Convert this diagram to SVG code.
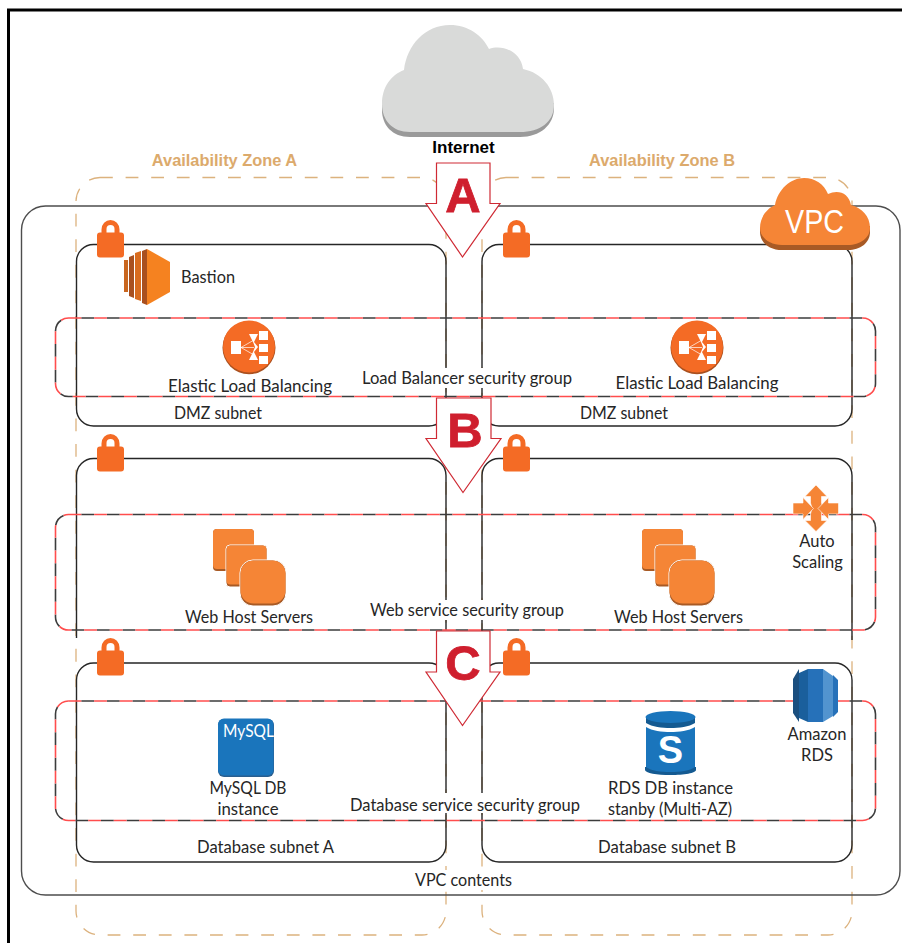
<svg xmlns="http://www.w3.org/2000/svg" width="902" height="943" viewBox="0 0 902 943">
<style>
text{font-family:Lato,"Liberation Sans",Arial,sans-serif;font-size:16.5px;fill:#262626}
.c{text-anchor:middle}
.az{font-family:"Liberation Sans",Arial,sans-serif;font-weight:700;font-size:16.4px;fill:#dcaa6c;text-anchor:middle}
.letter{font-family:"Liberation Sans",Arial,sans-serif;font-weight:700;font-size:49px;fill:#cf1f2e;stroke:#cf1f2e;stroke-width:.8;text-anchor:middle}
.azb{fill:none;stroke:#dcb27e;stroke-width:1.3;stroke-dasharray:12.8 12.8}
.vpc{fill:none;stroke:#4d4d4d;stroke-width:1.4}
.sub{fill:none;stroke:#262626;stroke-width:1.4}
.sgb{fill:none;stroke:#3c3c3c;stroke-width:1.6;stroke-dasharray:12.8 12.8;stroke-dashoffset:12.8}
.sgr{fill:none;stroke:#ff4d4d;stroke-width:1.6;stroke-dasharray:12.8 12.8}
.arrow{fill:#fff;stroke:#cf2a34;stroke-width:1.2}
.lock{fill:#f46b25}
.org{fill:#f58536}
.orgd{fill:#a85a25}
.w{fill:#fff}
</style>
<defs>
<g id="lockI">
<path class="lock" d="M0 15.5a3 3 0 0 1 3-3h1.5v-3a9 9.5 0 0 1 18 0v3h1.500a3 3 0 0 1 3 3v19a3 3 0 0 1-3 3h-21a3 3 0 0 1-3-3z"/>
<path class="w" d="M9.500 12.500v-3.500a4 4 0 0 1 8 0v3.500z"/>
</g>
<g id="elbI">
<circle r="26.500" cy="0.700" fill="#a9501f"/>
<circle r="26" cy="-0.500" fill="#f46b25"/>
<rect class="w" x="-18" y="-6" width="10" height="13"/>
<rect class="w" x="10" y="-16" width="9" height="9"/>
<rect class="w" x="10" y="-3" width="9" height="8"/>
<rect class="w" x="10" y="9" width="9" height="8"/>
<path class="w" d="M0-13H9L5-5 9 0 5 5 9 13H0L4 5 6 0 4-5z"/>
<path fill="none" stroke="#fff" stroke-width=".7" d="M-8 .500 5-7M-8 .500H5M-8 .500 5 8"/>
</g>
<g id="webI">
<rect class="orgd" x="0" y="0" width="41" height="42" rx="4"/>
<rect class="org" x="0" y="0" width="41" height="40" rx="4"/>
<rect class="orgd" x="13" y="16" width="41" height="42" rx="4" stroke="#fff" stroke-width="1"/>
<rect class="org" x="13.500" y="16.500" width="40" height="39" rx="4"/>
<rect class="orgd" x="27" y="31" width="46" height="46" rx="13" stroke="#fff" stroke-width="1"/>
<rect class="org" x="27.500" y="31.500" width="45" height="43" rx="13"/>
</g>
</defs>

<g id="frame"><path fill="none" stroke="#000" stroke-width="3" d="M8.500 943V10H902"/></g>

<g id="zone-a"><rect class="azb" x="76" y="177.500" width="370" height="757.500" rx="24"/></g>
<g id="zone-b"><rect class="azb" x="482" y="177.500" width="370" height="757.500" rx="24"/></g>
<g id="vpc-contents"><rect class="vpc" x="21.500" y="206" width="878.500" height="689" rx="24"/></g>

<g id="subnets">
<rect class="sub" x="76.500" y="244.500" width="369.500" height="181.500" rx="17"/>
<rect class="sub" x="482" y="244.500" width="370" height="181.500" rx="17"/>
<path class="sub" d="M76.500 638V475.500a17 17 0 0 1 17-17H429a17 17 0 0 1 17 17V630"/>
<path class="sub" d="M482 632V475.500a17 17 0 0 1 17-17H835a17 17 0 0 1 17 17V640"/>
<rect class="sub" x="76.500" y="663" width="369.500" height="199" rx="17"/>
<rect class="sub" x="482" y="663" width="370" height="199" rx="17"/>
</g>

<g id="security-groups">
<rect class="sgb" x="55.500" y="318" width="820" height="78.500" rx="13"/>
<rect class="sgr" x="55.500" y="318" width="820" height="78.500" rx="13"/>
<rect class="sgb" x="55.500" y="514.500" width="820" height="115.500" rx="13"/>
<rect class="sgr" x="55.500" y="514.500" width="820" height="115.500" rx="13"/>
<rect class="sgb" x="55.500" y="701" width="820" height="119.500" rx="13"/>
<rect class="sgr" x="55.500" y="701" width="820" height="119.500" rx="13"/>
</g>

<g id="connectors">
<path class="arrow" d="M436.500 163H490V203.500H500L462.500 257 426 203.500H436.500Z"/>
<text class="letter" x="463" y="212">A</text>
<path class="arrow" d="M436.500 398H491V438.500H501L463 492.500 426 438.500H436.500Z"/>
<text class="letter" x="465" y="447">B</text>
<path class="arrow" d="M436.500 631H490V672H500L462.500 725.500 426 672H436.500Z"/>
<text class="letter" x="463" y="680">C</text>
</g>

<g id="internet">
<path fill="#9a9a9a" d="M382 105V110C382 125 392 137 410 137H520C540 137 554 125 554 108V103Z"/>
<path fill="#d9dad9" d="M382 104C382 87 391 75 404 70C407 45 425 25 450 25C468 25 482 35 489 49C503 44 521 52 523 69C542 73 554 88 554 105C554 122 540 132 520 132H410C392 132 382 120 382 104Z"/>
<text x="463.500" y="152.500" class="c" style="font-family:'Liberation Sans',Arial,sans-serif;font-weight:700;font-size:17px;fill:#000">Internet</text>
</g>
<g id="label-az-a"><text class="az" x="224.500" y="165.500">Availability Zone A</text></g>
<g id="label-az-b"><text class="az" x="662" y="165.500">Availability Zone B</text></g>

<g id="vpc-badge">
<path class="orgd" d="M760 228V232C760 243 770 250 782 250H848C860 250 870 243 870 232V226Z"/>
<path class="org" d="M760 228C760 216 768 208 775 205C778 189 791 178 804 178C815 178 824 184 828 194C838 189 849 193 851 205C862 208 870 216 870 228C870 238 860 245 848 245H782C770 245 760 238 760 228Z"/>
<text x="814.500" y="233" class="c" textLength="59" lengthAdjust="spacingAndGlyphs" style="font-family:'Liberation Sans',Arial,sans-serif;font-size:34px;fill:#fff">VPC</text>
</g>

<g id="lock-1"><use href="#lockI" x="97" y="220"/></g>
<g id="lock-2"><use href="#lockI" x="503" y="220"/></g>
<g id="lock-3"><use href="#lockI" x="97" y="434"/></g>
<g id="lock-4"><use href="#lockI" x="503" y="434"/></g>
<g id="lock-5"><use href="#lockI" x="97" y="638"/></g>
<g id="lock-6"><use href="#lockI" x="503" y="638"/></g>

<g id="bastion">
<path fill="#c9661f" d="M124 260H128V292H124z"/>
<path fill="#a9501f" d="M129 257L134 255V298L129 296z"/>
<path fill="#d96c1f" d="M135 253L141 251V301L135 299z"/>
<path fill="#a9501f" d="M142 251L147 249V305L142 303z"/>
<path fill="#f58220" d="M147 249L170 262V292L147 305z"/>
<text x="181" y="283" textLength="54" lengthAdjust="spacingAndGlyphs">Bastion</text>
</g>

<g id="elb-a">
<use href="#elbI" x="249" y="347"/>
<text class="c" x="250" y="392" textLength="164" lengthAdjust="spacingAndGlyphs">Elastic Load Balancing</text>
</g>
<g id="elb-b">
<use href="#elbI" x="697" y="347"/>
<text class="c" x="697" y="389" textLength="163" lengthAdjust="spacingAndGlyphs">Elastic Load Balancing</text>
</g>
<g id="label-lb-sg">
<rect class="w" x="362" y="368" width="210" height="20"/>
<text class="c" x="467" y="384" textLength="210" lengthAdjust="spacingAndGlyphs">Load Balancer security group</text>
</g>
<g id="label-dmz-a"><text class="c" x="218" y="419" textLength="88" lengthAdjust="spacingAndGlyphs">DMZ subnet</text></g>
<g id="label-dmz-b"><text class="c" x="624" y="419" textLength="88" lengthAdjust="spacingAndGlyphs">DMZ subnet</text></g>

<g id="web-a">
<use href="#webI" x="213" y="529"/>
<text class="c" x="249" y="623" textLength="128" lengthAdjust="spacingAndGlyphs">Web Host Servers</text>
</g>
<g id="web-b">
<use href="#webI" x="642" y="529"/>
<text class="c" x="678.500" y="623" textLength="129" lengthAdjust="spacingAndGlyphs">Web Host Servers</text>
</g>
<g id="label-web-sg">
<rect class="w" x="370" y="600" width="194" height="20"/>
<text class="c" x="467" y="616" textLength="194" lengthAdjust="spacingAndGlyphs">Web service security group</text>
</g>

<g id="auto-scaling">
<path class="org" stroke="#fff" stroke-width=".6" d="M816 485L827 496.500H821.500V503L823 508 821.500 514V520.500H827L816 531.500 805 520.500H810.500V514L812 508 810.500 503V496.500H805Z"/>
<path class="org" stroke="#fff" stroke-width=".6" d="M793 503H803V497.500L813.500 508.500 803 519.500V514H793Z"/>
<path class="org" stroke="#fff" stroke-width=".6" d="M838.500 503H828.500V497.500L818 508.500 828.500 519.500V514H838.500Z"/>
<text class="c" x="817" y="546.500">Auto</text>
<text class="c" x="817.500" y="567.500">Scaling</text>
</g>

<g id="mysql">
<rect x="218" y="719" width="56" height="58" rx="6" fill="#2a5f8f"/>
<rect x="218" y="718.500" width="55.500" height="57" rx="6" fill="#1a75bc"/>
<text x="223" y="737" textLength="51" lengthAdjust="spacingAndGlyphs" style="font-size:17px;fill:#fff">MySQL</text>
<text class="c" x="248" y="794" textLength="77" lengthAdjust="spacingAndGlyphs">MySQL DB</text>
<text class="c" x="248" y="815" textLength="61" lengthAdjust="spacingAndGlyphs">instance</text>
</g>

<g id="rds-standby">
<path fill="#145a91" d="M645 767V770C645 773 657 775 670.500 775S696 773 696 770V767Z"/>
<path fill="#1a75bc" d="M646 727C652 731 662 732 670.500 732S689 731 695 727V767C690 771 680 772 670.500 772S651 771 646 767Z"/>
<path fill="#145a91" d="M646 718V723C652 727 662 728 670.500 728S689 727 695 723V718Z"/>
<ellipse cx="670.500" cy="717" rx="25" ry="6" fill="#1a75bc"/>
<text class="c" x="670.500" y="763" style="font-family:'Liberation Sans',Arial,sans-serif;font-weight:700;font-size:38px;fill:#fff">S</text>
<text class="c" x="670.500" y="794" textLength="125" lengthAdjust="spacingAndGlyphs">RDS DB instance</text>
<text class="c" x="670" y="815" textLength="124" lengthAdjust="spacingAndGlyphs">stanby (Multi-AZ)</text>
</g>

<g id="amazon-rds">
<path fill="#1b4f7f" d="M799 669V722L793 713V679Z"/>
<path fill="#1a5f9c" d="M799 673L808 669V722L799 718Z"/>
<rect x="808" y="669" width="15" height="53" fill="#2671b9"/>
<path fill="#5294cf" d="M823 669L833 676V716L823 722Z"/>
<path fill="#2671b9" d="M833 675L838 680V712L833 717Z"/>
<text class="c" x="817" y="739.500">Amazon</text>
<text class="c" x="817" y="760.500">RDS</text>
</g>

<g id="label-db-sg">
<rect class="w" x="350" y="793" width="230" height="20"/>
<text class="c" x="465" y="810.500" textLength="230" lengthAdjust="spacingAndGlyphs">Database service security group</text>
</g>
<g id="label-db-a"><text class="c" x="265.500" y="852.500" textLength="137" lengthAdjust="spacingAndGlyphs">Database subnet A</text></g>
<g id="label-db-b"><text class="c" x="667" y="852.500" textLength="138" lengthAdjust="spacingAndGlyphs">Database subnet B</text></g>
<g id="label-vpc">
<rect class="w" x="415" y="870" width="97" height="20"/>
<text class="c" x="463.500" y="885.500" textLength="97" lengthAdjust="spacingAndGlyphs">VPC contents</text>
</g>
</svg>
